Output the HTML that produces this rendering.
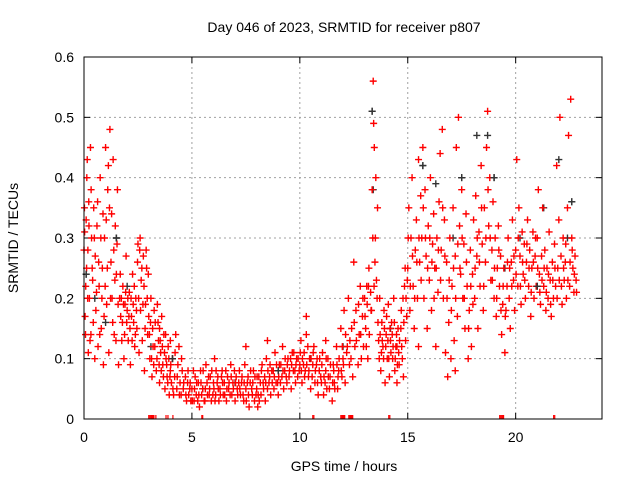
<!DOCTYPE html>
<html><head><meta charset="utf-8"><style>
body{margin:0;background:#fff;}
svg{display:block;font-family:"Liberation Sans",sans-serif;}
</style></head><body>
<svg id="chart" width="640" height="480" viewBox="0 0 640 480">
<rect x="0" y="0" width="640" height="480" fill="#fff"/>
<text x="344" y="32" font-size="14" text-anchor="middle">Day 046 of 2023, SRMTID for receiver p807</text>
<g id="grid"></g>
<g id="ticks"></g>
<g id="marks"></g>
<rect x="84" y="57" width="518" height="362" fill="none" stroke="#000" stroke-width="1"/>
<text x="344" y="471" font-size="14" text-anchor="middle">GPS time / hours</text>
<text x="18" y="238" font-size="14" text-anchor="middle" transform="rotate(-90 18 238)">SRMTID / TECUs</text>
</svg>
<script>
const xTicks=[0,5,10,15,20];
const yTicks=[0,0.1,0.2,0.3,0.4,0.5,0.6];
const yTickLabels=["0","0.1","0.2","0.3","0.4","0.5","0.6"];
const redT=[0.05,0.1,0.12,0.15,0.2,0.22,0.25,0.3,0.32,0.35,0.4,0.45,0.5,0.52,0.55,0.6,0.65,0.7,0.75,0.8,0.85,0.9,0.95,1.0,1.05,1.1,1.15,1.2,1.25,1.3,1.35,1.4,1.45,1.5,1.55,1.6,1.65,1.7,1.75,1.8,1.85,1.9,1.95,2.0,2.05,2.1,2.15,2.2,2.25,2.3,2.35,2.4,2.45,2.5,2.55,2.6,2.65,2.7,2.75,2.8,2.85,2.9,2.95,3.0,0.0,0.02,1.28,2.62,0.08,0.18,
3.05,3.1,3.15,3.2,3.3,3.35,3.4,3.45,3.5,3.55,3.6,3.65,3.7,3.75,3.8,3.85,3.9,3.95,4.0,4.05,4.1,4.15,4.2,4.25,4.3,4.35,4.4,4.45,4.5,4.55,4.6,4.7,4.75,4.8,4.85,4.9,4.95,3.25,3.5,4.0,
5.0,5.1,5.15,5.2,5.3,5.35,5.4,5.45,5.5,5.6,5.65,5.7,5.8,5.85,5.9,6.0,6.05,6.1,6.2,6.25,6.3,6.4,6.45,6.5,6.6,6.65,6.7,6.8,6.85,6.9,7.0,7.05,7.1,7.2,7.25,7.3,7.4,7.45,7.5,7.6,7.65,7.7,7.8,7.85,7.9,8.0,8.05,8.1,8.2,8.25,8.3,8.4,8.45,8.5,8.6,8.65,8.7,8.8,8.85,8.9,9.0,9.05,9.1,9.2,9.25,9.3,9.4,9.45,9.5,9.6,9.65,9.7,9.8,9.85,9.9,7.5,8.5,
10.0,10.05,10.1,10.2,10.25,10.3,10.4,10.45,10.5,10.6,10.65,10.7,10.8,10.85,10.9,11.0,11.05,11.1,11.2,11.25,11.3,11.4,11.5,11.55,11.6,11.7,11.75,11.8,11.9,11.95,12.0,12.05,12.1,12.2,12.25,12.3,12.4,12.45,12.5,12.55,12.6,12.7,12.75,12.8,12.85,12.9,12.95,10.3,11.2,
13.0,13.05,13.1,13.15,13.2,13.3,13.35,13.4,13.42,13.45,13.5,13.55,13.6,13.65,13.7,13.75,13.8,13.85,13.9,13.95,14.0,14.05,14.1,14.15,14.2,14.25,14.3,14.35,14.4,14.45,14.5,14.55,14.6,14.7,14.75,14.8,14.85,14.9,14.95,13.48,13.52,14.5,
15.0,15.05,15.1,15.15,15.2,15.25,15.3,15.35,15.4,15.45,15.5,15.55,15.6,15.65,15.7,15.75,15.8,15.85,15.9,15.95,16.0,16.05,16.1,16.15,16.2,16.25,16.3,16.35,16.4,16.45,16.5,16.55,16.6,16.65,16.7,16.75,16.8,16.85,16.9,16.95,17.0,17.05,17.1,17.15,17.2,17.25,17.3,17.35,17.4,17.45,17.5,17.55,17.6,17.65,17.7,17.75,17.8,17.85,17.9,17.95,18.0,18.05,18.1,18.15,18.2,18.25,18.3,18.35,18.4,18.45,18.5,18.55,18.6,18.65,18.7,18.75,18.8,18.85,18.9,18.95,19.0,19.05,19.1,19.15,19.2,19.25,19.3,19.35,19.4,19.45,19.5,19.55,19.6,19.65,19.7,19.75,19.8,19.85,19.9,19.95,20.0,20.05,20.1,20.15,20.2,20.25,20.3,20.35,20.4,20.45,20.5,20.55,20.6,20.65,20.7,20.75,20.8,20.85,20.9,20.95,21.0,21.05,21.1,21.15,21.2,21.25,21.3,21.35,21.4,21.45,21.5,21.55,21.6,21.65,21.7,21.75,21.8,21.85,21.9,21.95,22.0,22.05,22.1,22.15,22.2,22.25,22.3,22.35,22.4,22.45,22.5,22.55,22.6,22.65,22.7,22.75,22.8,17.2,15.5];
const redV=[.17,.33,.25,.43,.11,.36,.2,.45,.14,.3,.23,.35,.1,.27,.18,.32,.12,.22,.4,.15,.25,.09,.3,.45,.19,.38,.11,.48,.26,.2,.43,.14,.32,.24,.38,.09,.2,.17,.13,.22,.1,.19,.27,.18,.13,.21,.09,.17,.24,.16,.12,.2,.15,.29,.11,.3,.23,.13,.27,.08,.19,.25,.14,.17,.28,.35,.34,.18,.22,.28,
.1,.2,.07,.12,.16,.08,.19,.13,.06,.11,.17,.09,.14,.05,.1,.07,.12,.04,.08,.06,.1,.04,.07,.14,.05,.09,.12,.06,.04,.08,.05,.07,.03,.06,.04,.05,.03,.18,.15,.13,
.05,.03,.07,.04,.06,.02,.08,.04,.05,.03,.09,.06,.04,.07,.03,.06,.1,.04,.07,.03,.05,.08,.04,.06,.03,.07,.05,.09,.04,.06,.03,.07,.05,.08,.04,.06,.03,.09,.05,.07,.02,.06,.04,.08,.03,.05,.02,.07,.04,.09,.06,.03,.1,.05,.07,.04,.08,.05,.11,.06,.04,.09,.06,.12,.05,.08,.06,.1,.07,.05,.11,.08,.06,.1,.07,.12,.13,
.09,.13,.06,.11,.08,.14,.07,.1,.05,.09,.12,.06,.1,.04,.08,.06,.11,.04,.08,.05,.1,.07,.03,.09,.06,.12,.05,.08,.15,.07,.1,.18,.06,.12,.2,.09,.15,.07,.26,.12,.18,.09,.14,.22,.1,.17,.12,.17,.13,
.2,.15,.22,.1,.25,.18,.38,.56,.49,.45,.3,.23,.35,.13,.2,.08,.16,.12,.18,.06,.14,.1,.19,.07,.13,.16,.1,.2,.08,.12,.06,.15,.09,.18,.1,.07,.22,.13,.17,.26,.4,.12,
.25,.35,.18,.3,.4,.22,.15,.28,.33,.2,.12,.26,.37,.3,.45,.2,.38,.27,.15,.32,.23,.4,.18,.29,.34,.25,.12,.3,.21,.36,.44,.28,.48,.2,.33,.11,.26,.07,.16,.3,.1,.22,.35,.13,.27,.45,.17,.5,.32,.24,.38,.2,.29,.15,.34,.22,.1,.18,.28,.12,.24,.33,.2,.37,.27,.15,.31,.22,.42,.29,.18,.35,.26,.45,.51,.32,.4,.23,.28,.36,.2,.3,.17,.25,.32,.22,.27,.14,.19,.25,.11,.18,.22,.3,.2,.15,.26,.33,.23,.18,.28,.43,.22,.35,.27,.19,.31,.24,.29,.2,.26,.33,.22,.28,.17,.25,.31,.2,.27,.22,.3,.38,.24,.19,.27,.35,.22,.28,.18,.25,.2,.31,.23,.17,.26,.2,.29,.22,.42,.25,.33,.5,.27,.19,.3,.23,.26,.2,.35,.47,.22,.53,.3,.25,.21,.27,.23,.08,.43];
const redT2=[4.02,4.12,4.22,4.32,4.42,4.52,4.62,4.72,4.82,4.92,5.02,5.07,5.12,5.22,5.27,5.32,5.42,5.52,5.57,5.62,5.72,5.77,5.82,5.92,5.97,
6.02,6.07,6.12,6.17,6.22,6.32,6.37,6.42,6.52,6.57,6.62,6.72,6.77,6.82,6.92,6.97,7.02,7.12,7.17,7.22,7.32,7.37,7.42,7.52,7.57,7.62,7.72,7.77,7.82,7.92,7.97,
8.02,8.07,8.12,8.17,8.22,8.32,8.37,8.42,8.52,8.57,8.62,8.72,8.77,8.82,8.92,8.97,9.02,9.12,9.17,9.22,9.32,9.37,9.42,9.52,9.57,9.62,9.72,9.77,9.82,9.92,9.97,
10.02,10.07,10.12,10.17,10.22,10.32,10.37,10.42,10.52,10.57,10.62,10.72,10.77,10.82,10.92,10.97,11.02,11.12,11.17,11.22,11.32,11.37,11.42,11.52,11.57,11.62,11.72,11.77,11.82,11.92,11.97,
12.02,12.12,12.17,12.32,12.37,12.52,12.62,12.72,12.82,12.92,
0.03,0.07,0.13,0.17,0.23,0.28,0.33,0.38,0.43,0.48,0.58,0.63,0.68,0.73,0.78,0.83,0.88,0.93,0.98,1.03,1.08,1.13,1.18,1.23,1.33,1.38,1.43,1.48,1.53,1.58,1.68,1.73,1.78,1.83,1.88,1.93,1.98,2.03,2.08,2.13,2.18,2.23,2.28,2.33,2.38,2.43,2.48,2.53,2.58,2.68,2.73,2.78,2.83,2.88,2.93,2.98,
3.03,3.08,3.13,3.18,3.23,3.28,3.38,3.43,3.48,3.53,3.58,3.63,3.68,3.73,3.78,3.83,3.88,3.93,3.98,
13.02,13.08,13.12,13.18,13.22,13.28,13.32,13.38,13.44,13.58,13.62,13.68,13.72,13.78,13.82,13.88,13.92,13.98,14.02,14.08,14.12,14.18,14.22,14.28,14.32,14.38,14.42,14.48,14.52,14.58,14.62,14.68,14.72,14.78,14.82,14.88,14.92,14.98,
15.02,15.12,15.22,15.32,15.42,15.52,15.62,15.72,15.82,15.92,16.02,16.12,16.22,16.32,16.42,16.52,16.62,16.72,16.82,16.92,17.02,17.12,17.22,17.32,17.42,17.52,17.62,17.72,17.82,17.92,18.02,18.12,18.22,18.32,18.42,18.52,18.62,18.72,18.82,18.92,19.02,19.12,19.22,19.32,19.42,19.52,19.62,19.72,19.82,19.92,20.02,20.12,20.22,20.32,20.42,20.52,20.62,20.72,20.82,20.92,21.02,21.12,21.22,21.32,21.42,21.52,21.62,21.72,21.82,21.92,22.02,22.12,22.22,22.32,22.42,22.52,22.62,22.72,22.82];
const redV2=[.09,.05,.11,.07,.04,.1,.06,.04,.08,.06,.03,.08,.05,.06,.03,.04,.06,.08,.03,.05,.04,.07,.05,.08,.04,
.05,.03,.08,.06,.05,.04,.07,.06,.04,.08,.05,.06,.04,.07,.05,.08,.06,.04,.06,.05,.07,.04,.06,.03,.06,.04,.08,.05,.06,.07,.04,
.07,.04,.03,.06,.08,.05,.07,.06,.08,.06,.09,.06,.08,.07,.09,.06,.07,.09,.07,.08,.1,.07,.09,.08,.1,.09,.11,.08,.09,.1,.08,
.11,.08,.1,.09,.07,.09,.12,.08,.1,.07,.11,.08,.09,.06,.1,.07,.09,.07,.06,.1,.07,.05,.09,.06,.08,.05,.09,.07,.1,.08,.12,
.09,.14,.11,.13,.1,.16,.13,.19,.14,.2,
.31,.14,.4,.2,.32,.13,.38,.25,.16,.3,.21,.36,.26,.14,.3,.2,.34,.17,.22,.33,.25,.42,.35,.2,.16,.28,.23,.13,.29,.19,.24,.2,.16,.19,.14,.21,.16,.2,.17,.15,.2,.13,.19,.22,.14,.18,.26,.2,.28,.25,.19,.22,.15,.28,.2,.24,
.14,.16,.1,.15,.09,.12,.1,.16,.09,.13,.08,.12,.07,.11,.14,.09,.06,.1,.07,
.17,.12,.19,.22,.14,.21,.18,.3,.22,.2,.16,.1,.14,.11,.13,.1,.15,.12,.17,.13,.1,.15,.11,.14,.12,.16,.1,.14,.09,.11,.13,.15,.12,.2,.16,.25,.2,.23,
.3,.22,.27,.2,.26,.3,.23,.35,.3,.25,.3,.26,.2,.25,.28,.23,.35,.27,.2,.23,.18,.25,.2,.29,.25,.3,.2,.26,.15,.22,.19,.25,.3,.26,.35,.22,.3,.38,.3,.23,.25,.2,.28,.18,.22,.17,.26,.25,.22,.27,.24,.3,.22,.26,.23,.29,.25,.21,.26,.3,.25,.21,.23,.25,.21,.24,.19,.23,.25,.2,.23,.22,.25,.29,.23,.26,.28,.24,.21];
const blackT=[0.1,0.5,1.0,1.5,2.0,3.1,4.1,5.5,7.0,9.0,10.5,12.0,13.35,13.4,14.2,15.7,16.3,17.1,17.5,18.2,18.7,19.0,19.5,20.2,21.0,21.3,22.0,22.6,22.4];
const blackV=[.24,.2,.16,.3,.22,.12,.1,.05,.06,.08,.1,.12,.51,.38,.15,.42,.39,.3,.4,.47,.47,.4,.25,.3,.22,.35,.43,.36,.3];
const flagT=[3.0,3.05,3.1,3.15,3.2,3.24,3.33,3.8,3.89,4.12,5.46,5.5,10.6,10.65,11.9,11.95,12.0,12.05,12.08,12.27,12.32,12.37,12.42,12.45,14.12,14.17,19.26,19.31,19.36,19.41,19.44,21.76,21.81];
const NS='http://www.w3.org/2000/svg';
const X0=84,X1=602,Y0=419,Y1=57,TMAX=24,VMAX=0.6;
function xs(t){return X0+(X1-X0)*t/TMAX;}
function ys(v){return Y0-(Y0-Y1)*v/VMAX;}
function mk(tag,attrs,parent){const e=document.createElementNS(NS,tag);for(const k in attrs)e.setAttribute(k,attrs[k]);parent.appendChild(e);return e;}
const grid=document.getElementById('grid'),ticks=document.getElementById('ticks'),marks=document.getElementById('marks');
xTicks.forEach((t,i)=>{const x=xs(t);
 if(t>0){const g=mk('line',{x1:x,x2:x,y1:Y1,y2:Y0,stroke:'#a0a0a0','stroke-dasharray':'2,3'},grid);
 
 }
 const l=mk('text',{x:x,y:Y0+23,'font-size':14,'text-anchor':'middle'},ticks);l.textContent=String(t);
 
 
 mk('line',{x1:x,x2:x,y1:Y0,y2:Y0-6,stroke:'#000'},ticks);mk('line',{x1:x,x2:x,y1:Y1,y2:Y1+6,stroke:'#000'},ticks);
});
yTicks.forEach((v,i)=>{const y=ys(v);
 if(v>0&&v<VMAX){const g=mk('line',{x1:X0,x2:X1,y1:y,y2:y,stroke:'#a0a0a0','stroke-dasharray':'2,3'},grid);
 
 }
 const l=mk('text',{x:X0-10,y:y+5,'font-size':14,'text-anchor':'end'},ticks);l.textContent=yTickLabels[i];
 
 
 mk('line',{x1:X0,x2:X0+6,y1:y,y2:y,stroke:'#000'},ticks);mk('line',{x1:X1,x2:X1-6,y1:y,y2:y,stroke:'#000'},ticks);
});
function plus(t,v,c,name){const x=xs(t),y=ys(v);
 const p=mk('path',{d:`M${x-3.5} ${y}H${x+3.5}M${x} ${y-3.5}V${y+3.5}`,stroke:c,'stroke-width':1.4,fill:'none'},marks);
 
 }
blackT.forEach((t,i)=>plus(t,blackV[i],'#333','srmtid-point-black'));
redT.forEach((t,i)=>plus(t,redV[i],'#ff0000','srmtid-point-red'));
redT2.forEach((t,i)=>plus(t,redV2[i],'#ff0000','srmtid-point-red'));
blackT.forEach((t,i)=>{if(i%3===0)plus(t,blackV[i],'#333','srmtid-point-black');});
flagT.forEach(t=>{const x=xs(t);
 const f=mk('line',{x1:x,x2:x,y1:Y0-4,y2:Y0,stroke:'#ff0000','stroke-width':1.2},marks);
 
 });
</script>
</body></html>
